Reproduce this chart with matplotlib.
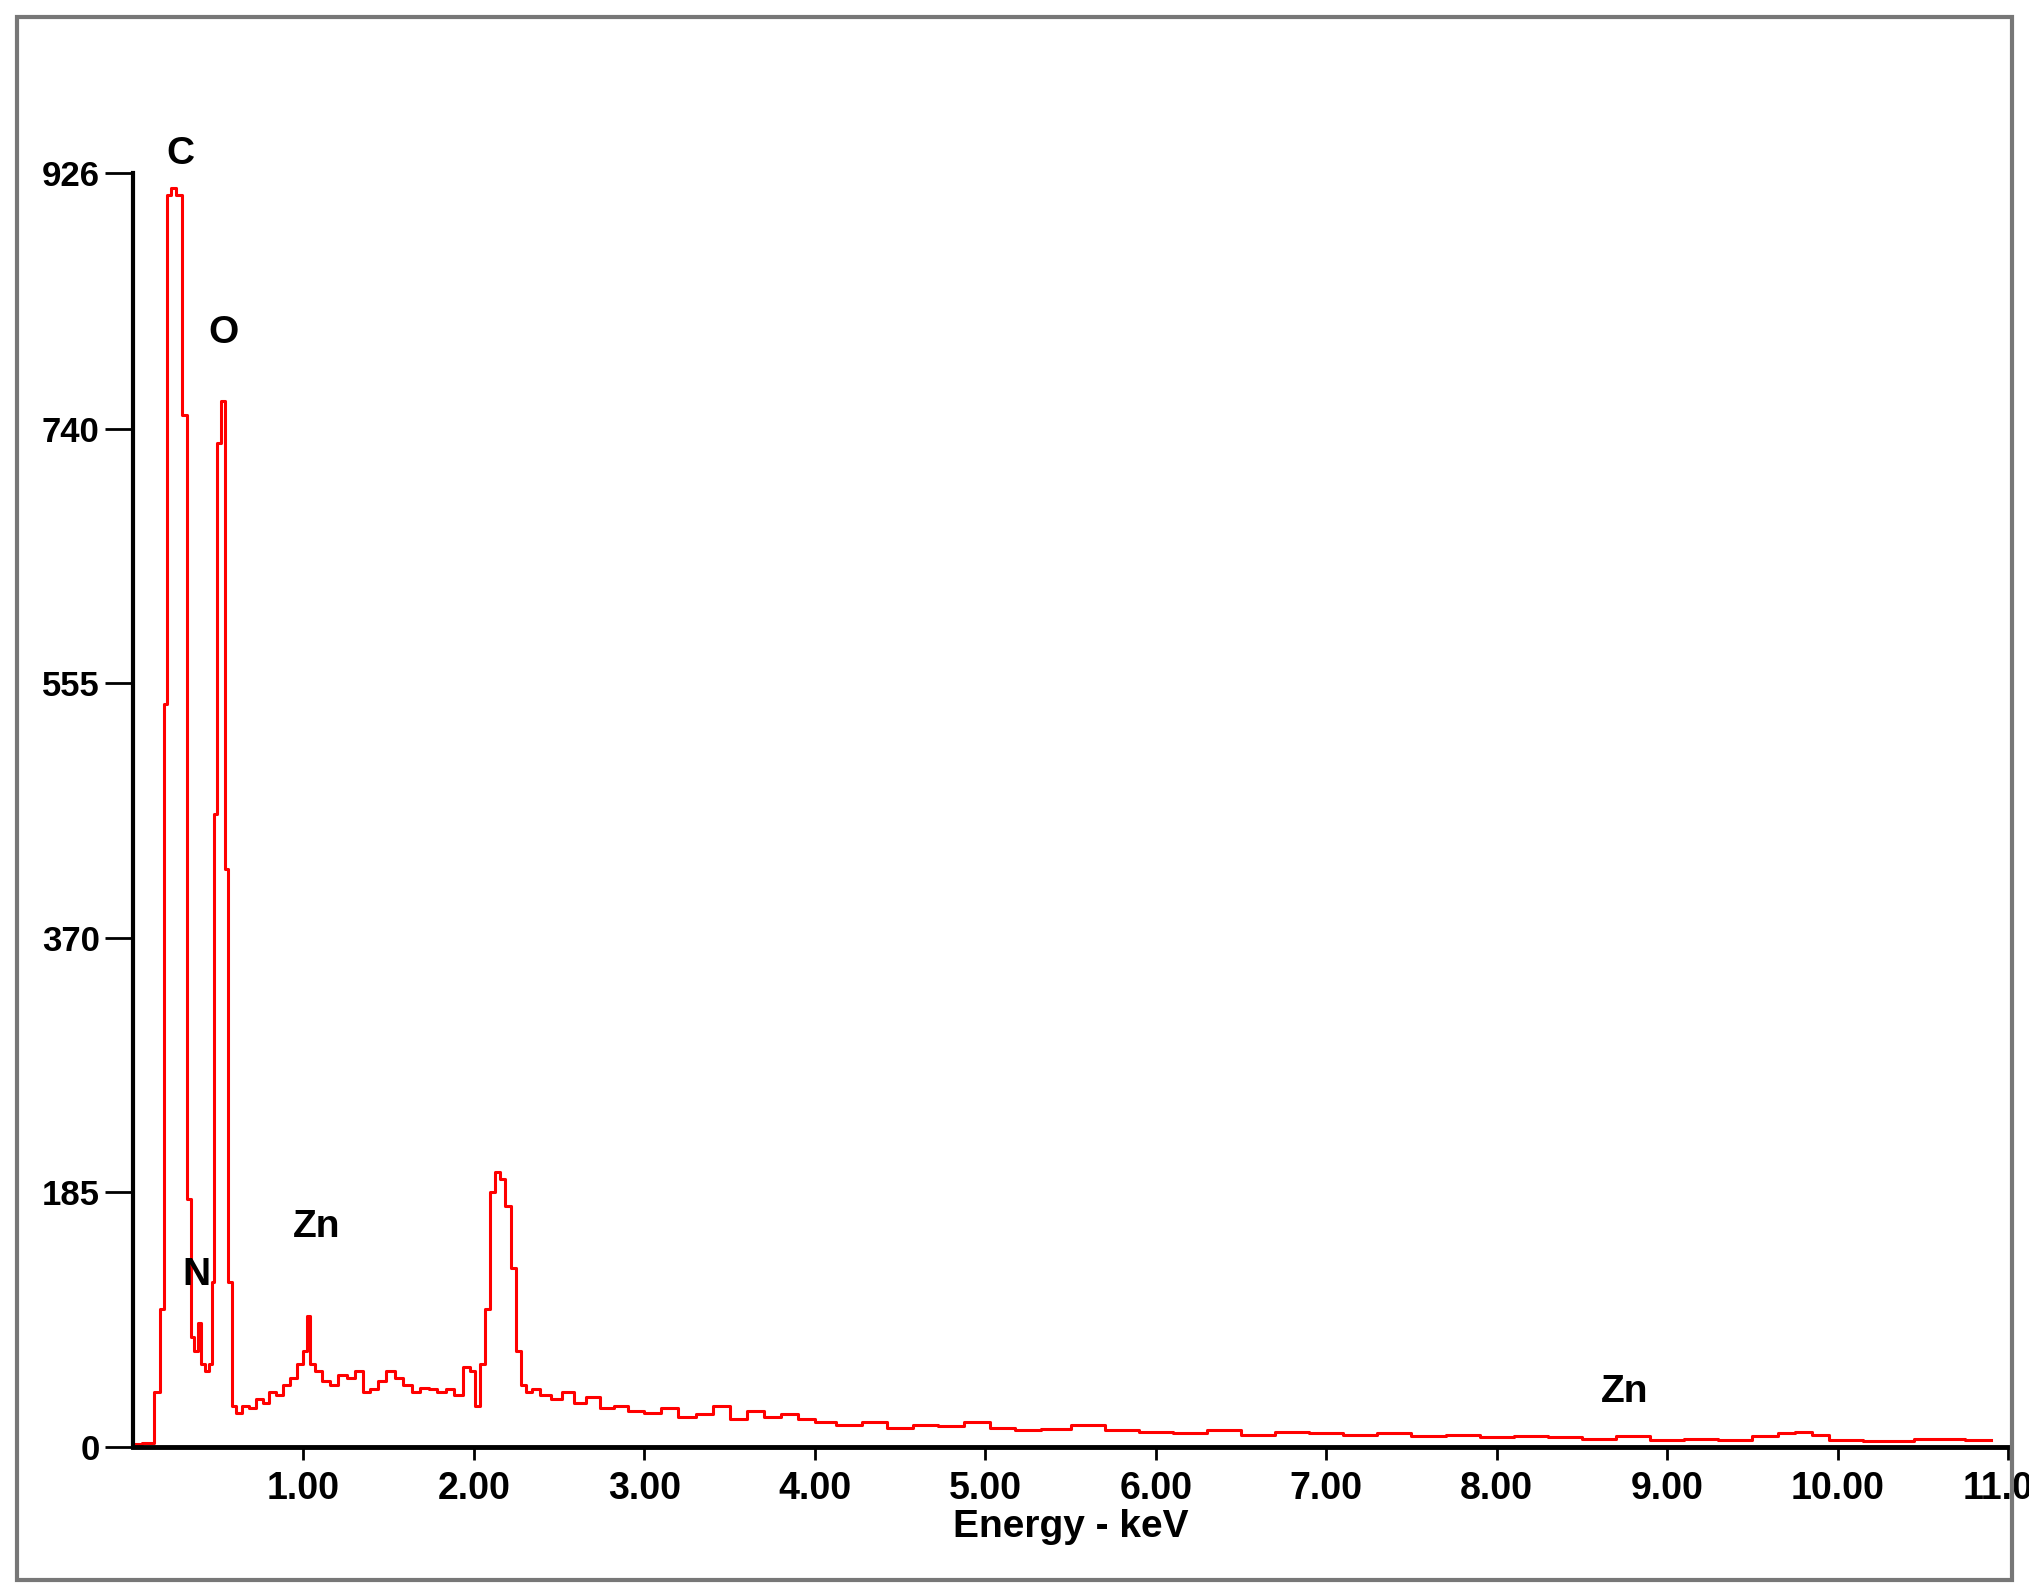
import matplotlib
matplotlib.use("Agg")
import matplotlib.pyplot as plt
from matplotlib.patches import Rectangle

energy = [0.00,0.10,0.15,0.17,0.19,0.21,0.23,0.27,0.30,0.33,
          0.35,0.37,0.39,0.41,0.43,0.46,0.47,0.48,0.50,0.53,
          0.545,0.57,0.59,0.62,0.66,0.70,0.74,0.78,0.82,0.86,
          0.90,0.94,0.98,1.01,1.03,1.05,1.09,1.13,1.18,1.23,
          1.28,1.33,1.37,1.41,1.46,1.51,1.56,1.61,1.66,1.71,
          1.76,1.81,1.86,1.91,1.96,1.99,2.02,2.05,2.08,2.11,
          2.14,2.17,2.20,2.23,2.26,2.29,2.32,2.36,2.42,2.48,
          2.55,2.62,2.70,2.78,2.86,2.95,3.05,3.15,3.25,3.35,
          3.45,3.55,3.65,3.75,3.85,3.95,4.05,4.2,4.35,4.5,
          4.65,4.8,4.95,5.1,5.25,5.4,5.6,5.8,6.0,6.2,
          6.4,6.6,6.8,7.0,7.2,7.4,7.6,7.8,8.0,8.2,
          8.4,8.6,8.8,9.0,9.2,9.4,9.6,9.7,9.8,9.9,
          10.0,10.3,10.6,10.9]
counts = [2,3,40,100,540,910,915,910,750,180,
          80,70,90,60,55,60,120,460,730,760,
          420,120,30,25,30,28,35,32,40,38,
          45,50,60,70,95,60,55,48,45,52,
          50,55,40,42,48,55,50,45,40,43,
          42,40,42,38,58,55,30,60,100,185,
          200,195,175,130,70,45,40,42,38,35,
          40,32,36,28,30,26,25,28,22,24,
          30,20,26,22,24,20,18,16,18,14,
          16,15,18,14,12,13,16,12,11,10,
          12,9,11,10,9,10,8,9,7,8,
          7,6,8,5,6,5,8,10,11,9,
          5,4,6,5]

peak_labels = ["C", "O", "N", "Zn", "Zn"]
peak_x = [0.28, 0.53, 0.37, 1.08, 8.75]
peak_y = [940, 810, 125, 160, 40]

yticks = [0, 185, 370, 555, 740, 926]
xticks = [1, 2, 3, 4, 5, 6, 7, 8, 9, 10, 11]
xticklabels = ["1.00","2.00","3.00","4.00","5.00","6.00","7.00","8.00","9.00","10.00","11.00"]

plt.rcParams['font.family'] = ['Liberation Sans', 'DejaVu Sans']
fig = plt.figure(figsize=(20.29, 15.95), dpi=100)
fig.patches.append(Rectangle((17/2029, 15/1595), (2012-17)/2029, (1578-15)/1595,
                             transform=fig.transFigure, fill=False, edgecolor='#777777', lw=3))
ax = fig.add_axes([133/2029, 148/1595, 1875/2029, 1274/1595])
ax.plot(energy, counts, drawstyle='steps-mid', color='red', lw=2.2, clip_on=False)
ax.set_xlim(0, 10.95)
ax.set_ylim(0, 926)
for s in ['top', 'right']:
    ax.spines[s].set_visible(False)
ax.spines['left'].set_linewidth(3)
ax.spines['bottom'].set_linewidth(3.5)
ax.set_yticks(yticks)
ax.set_yticklabels([str(v) for v in yticks], fontsize=25, fontweight='bold')
ax.set_xticks(xticks)
ax.set_xticklabels(xticklabels, fontsize=27, fontweight='bold')
ax.tick_params(axis='y', length=20, width=2, pad=4)
ax.tick_params(axis='x', length=9, width=2, pad=8)
ax.set_xlabel("Energy - keV", fontsize=28, fontweight='bold', labelpad=2)
for lab, x, y in zip(peak_labels, peak_x, peak_y):
    ax.text(x, y, lab, fontsize=28, fontweight='bold', ha='center', va='center')
fig.savefig("out.png", dpi=100)
